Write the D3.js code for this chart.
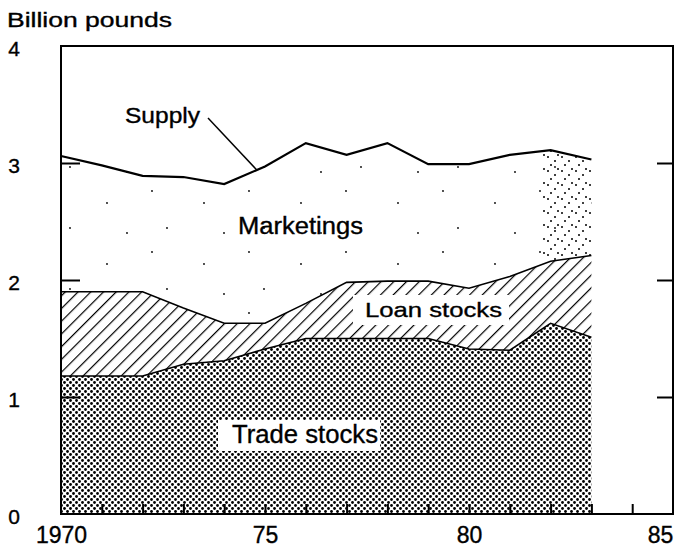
<!DOCTYPE html>
<html>
<head>
<meta charset="utf-8">
<script src="https://cdn.jsdelivr.net/npm/d3@7"></script>
<style>
  body { margin: 0; background: #fff; }
  text { font-family: "Liberation Sans", Arial, sans-serif; fill: #000; stroke: #000; stroke-width: 0.35px; }
</style>
</head>
<body>
<div id="plot"></div>
<script>
// Values, billion pounds
var years = [1970, 1971, 1972, 1973, 1974, 1975, 1976, 1977, 1978, 1979, 1980, 1981, 1982, 1983];
var tradeStocks = [1.18, 1.18, 1.18, 1.28, 1.31, 1.41, 1.50, 1.50, 1.50, 1.50, 1.41, 1.40, 1.63, 1.51];
var loanStocks  = [0.72, 0.72, 0.72, 0.48, 0.32, 0.22, 0.30, 0.48, 0.49, 0.49, 0.52, 0.63, 0.53, 0.70];
var supply      = [3.06, 2.98, 2.89, 2.88, 2.82, 2.97, 3.17, 3.07, 3.17, 2.99, 2.99, 3.07, 3.11, 3.03];
var yTicks = [0, 1, 2, 3, 4];
var xLabels = [1970, 1975, 1980, 1985];
var xLabelText = ["1970", "75", "80", "85"];

var width = 675, height = 547;

var svg = d3.select("#plot")
    .append("svg")
    .attr("width", width)
    .attr("height", height);

var x = d3.scaleLinear().domain([1970, 1985]).range([61, 673]);
var y = d3.scaleLinear().domain([0, 4]).range([514, 46]);

// stack trade, loan, then marketings up to supply
var rows = years.map(function(yr, i) {
    return {
        year: yr,
        trade: tradeStocks[i],
        loan: loanStocks[i],
        marketings: supply[i] - tradeStocks[i] - loanStocks[i]
    };
});
var stacked = d3.stack().keys(["trade", "loan", "marketings"])(rows);

// patterns
var defs = svg.append("defs");
var dots = defs.append("pattern")
    .attr("id", "dots").attr("patternUnits", "userSpaceOnUse")
    .attr("width", 6).attr("height", 6);
dots.append("rect").attr("width", 6).attr("height", 6).attr("fill", "#fff");
dots.append("circle").attr("cx", 1.5).attr("cy", 1.5).attr("r", 1.4).attr("fill", "#000");
dots.append("circle").attr("cx", 4.5).attr("cy", 4.5).attr("r", 1.4).attr("fill", "#000");

var hatch = defs.append("pattern")
    .attr("id", "hatch").attr("patternUnits", "userSpaceOnUse")
    .attr("width", 9).attr("height", 9)
    .attr("patternTransform", "rotate(45)");
hatch.append("rect").attr("width", 9).attr("height", 9).attr("fill", "#fff");
hatch.append("line").attr("x1", 0).attr("y1", 0).attr("x2", 0).attr("y2", 9)
    .attr("stroke", "#000").attr("stroke-width", 2.4);

var sparse = defs.append("pattern")
    .attr("id", "sparse").attr("patternUnits", "userSpaceOnUse")
    .attr("width", 97).attr("height", 61);
[[10, 20], [55, 8], [70, 45], [30, 50]].forEach(function(p) {
    sparse.append("circle").attr("cx", p[0]).attr("cy", p[1]).attr("r", 0.9).attr("fill", "#000");
});

var dense = defs.append("pattern")
    .attr("id", "dense").attr("patternUnits", "userSpaceOnUse")
    .attr("width", 14).attr("height", 14);
[[2, 3], [9, 7], [5, 11], [12, 1]].forEach(function(p) {
    dense.append("circle").attr("cx", p[0]).attr("cy", p[1]).attr("r", 1).attr("fill", "#000");
});

defs.append("clipPath").attr("id", "lateClip")
    .append("rect")
    .attr("x", x(1981.8)).attr("y", 0)
    .attr("width", x(1983) - x(1981.8)).attr("height", height);

var area = d3.area()
    .x(function(d) { return x(d.data.year); })
    .y0(function(d) { return y(d[0]); })
    .y1(function(d) { return y(d[1]); });

var fills = ["url(#dots)", "url(#hatch)", "#fff"];
svg.append("g").selectAll("path")
    .data(stacked)
    .enter()
    .append("path")
    .attr("d", area)
    .attr("fill", function(d, i) { return fills[i]; });

// stipple in the marketings band
svg.append("path").datum(stacked[2]).attr("d", area).attr("fill", "url(#sparse)");
svg.append("path").datum(stacked[2]).attr("d", area)
    .attr("fill", "url(#dense)").attr("clip-path", "url(#lateClip)");

// boundary lines
var line = d3.line()
    .x(function(d) { return x(d.data.year); })
    .y(function(d) { return y(d[1]); });
svg.append("path").datum(stacked[0]).attr("d", line)
    .attr("fill", "none").attr("stroke", "#000").attr("stroke-width", 1.6);
svg.append("path").datum(stacked[1]).attr("d", line)
    .attr("fill", "none").attr("stroke", "#000").attr("stroke-width", 1.6);
svg.append("path").datum(stacked[2]).attr("d", line)
    .attr("fill", "none").attr("stroke", "#000").attr("stroke-width", 2.2);

// frame
svg.append("rect")
    .attr("x", x(1970)).attr("y", y(4))
    .attr("width", x(1985) - x(1970)).attr("height", y(0) - y(4))
    .attr("fill", "none").attr("stroke", "#000").attr("stroke-width", 2);

// inner ticks
svg.append("g").attr("transform", "translate(" + x(1970) + ",0)")
    .call(d3.axisRight(y).tickValues([1, 2, 3]).tickSize(19).tickFormat(""))
    .call(function(g) { g.select(".domain").remove(); g.selectAll("line").attr("stroke-width", 2); });
svg.append("g").attr("transform", "translate(" + x(1985) + ",0)")
    .call(d3.axisLeft(y).tickValues([1, 2, 3]).tickSize(16).tickFormat(""))
    .call(function(g) { g.select(".domain").remove(); g.selectAll("line").attr("stroke-width", 2); });
svg.append("g").attr("transform", "translate(0," + y(0) + ")")
    .call(d3.axisTop(x).tickValues(d3.range(1971, 1985)).tickSize(10).tickFormat(""))
    .call(function(g) { g.select(".domain").remove(); g.selectAll("line").attr("stroke-width", 2); });

// tick labels
svg.append("g").attr("transform", "translate(" + x(1970) + ",0)")
    .call(d3.axisLeft(y).tickValues(yTicks).tickSize(0).tickPadding(0).tickFormat(d3.format("d")))
    .call(function(g) {
        g.select(".domain").remove();
        g.selectAll("text")
            .attr("x", -47).attr("dy", "0.45em")
            .attr("text-anchor", "middle")
            .style("font-size", "21px").style("font-family", null);
    });
svg.append("g").attr("transform", "translate(0," + y(0) + ")")
    .call(d3.axisBottom(x).tickValues(xLabels).tickSize(0).tickPadding(13)
        .tickFormat(function(d, i) { return xLabelText[i]; }))
    .call(function(g) {
        g.select(".domain").remove();
        g.selectAll("text")
            .style("font-size", "23px").style("font-family", null)
            .attr("dx", function(d) { return d === 1985 ? -13 : 0; });
    });

// unit label
svg.append("text")
    .attr("x", 7).attr("y", 27)
    .attr("textLength", 165).attr("lengthAdjust", "spacingAndGlyphs")
    .style("font-size", "20px")
    .text("Billion pounds");

// series labels
svg.append("rect").attr("x", 218).attr("y", 420).attr("width", 162).attr("height", 31).attr("fill", "#fff");
svg.append("text").attr("x", 232).attr("y", 443)
    .attr("textLength", 146).attr("lengthAdjust", "spacingAndGlyphs")
    .style("font-size", "25px").text("Trade stocks");

svg.append("rect").attr("x", 353).attr("y", 295).attr("width", 156).attr("height", 30).attr("fill", "#fff");
svg.append("text").attr("x", 365).attr("y", 317)
    .attr("textLength", 137).attr("lengthAdjust", "spacingAndGlyphs")
    .style("font-size", "21px").text("Loan stocks");

svg.append("text").attr("x", 238).attr("y", 234)
    .attr("textLength", 125).attr("lengthAdjust", "spacingAndGlyphs")
    .style("font-size", "23px").text("Marketings");

svg.append("text").attr("x", 125).attr("y", 123)
    .attr("textLength", 75).attr("lengthAdjust", "spacingAndGlyphs")
    .style("font-size", "22px").text("Supply");

// leader from the Supply label to its line
var leadYear = 1974.8;
var leadVal = d3.scaleLinear().domain(years).range(supply)(leadYear);
svg.append("line")
    .attr("x1", 208).attr("y1", 118)
    .attr("x2", x(leadYear)).attr("y2", y(leadVal))
    .attr("stroke", "#000").attr("stroke-width", 1.5);
</script>
</body>
</html>
